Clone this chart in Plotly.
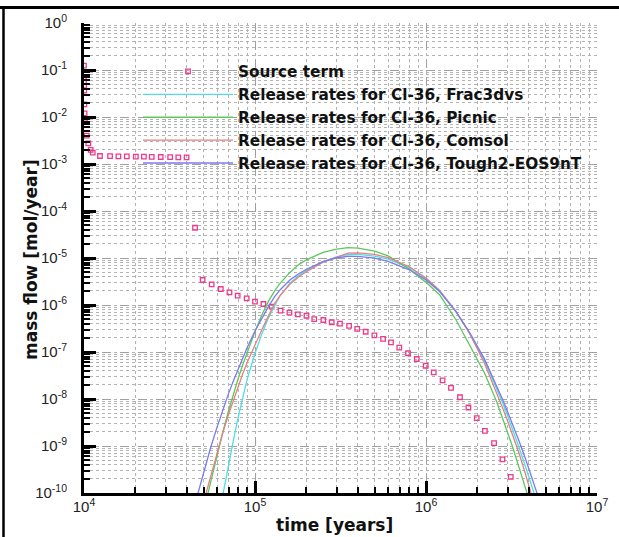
import plotly.graph_objects as go

# ---- data ----
src_time = [10000, 10005, 10010, 10020, 10030, 10050, 10080, 10120, 10370, 10600, 10940, 11250,
            12400, 14200, 15900, 17800, 20100, 22400, 24900, 28100, 31900, 35600, 39800, 44600,
            49400, 55800, 63100, 70900, 79200, 89400, 100000, 112000, 125000, 141000, 159000,
            178000, 200000, 222000, 251000, 281000, 314000, 355000, 396000, 444000, 499000,
            561000, 624000, 698000, 785000, 883000, 996000, 1110000, 1250000, 1400000, 1580000,
            1770000, 1980000, 2210000, 2500000, 2800000, 3130000, 3500000]
src_mass = [0.124, 0.070, 0.0564, 0.0457, 0.0363, 0.0186, 0.0120, 0.0078, 0.0040, 0.00275, 0.00199, 0.00174,
            0.00148, 0.00147, 0.00146, 0.00145, 0.00144, 0.00143, 0.00142, 0.00141, 0.0014, 0.00139, 0.00138, 4.4e-5,
            3.4e-6, 2.75e-6, 2.19e-6, 1.86e-6, 1.58e-6, 1.39e-6, 1.18e-6, 1.05e-6, 9.2e-7, 7.6e-7, 6.9e-7,
            6.3e-7, 5.9e-7, 5.0e-7, 4.8e-7, 4.3e-7, 4.0e-7, 3.6e-7, 3.1e-7, 2.7e-7, 2.26e-7,
            1.9e-7, 1.6e-7, 1.24e-7, 9.4e-8, 7.1e-8, 5.1e-8, 3.7e-8, 2.5e-8, 1.73e-8, 1.09e-8,
            6.6e-9, 3.9e-9, 2.1e-9, 1.15e-9, 5.2e-10, 2.2e-10, 9.5e-11]

rel_time = [4.5e4, 5e4, 5.5e4, 6e4, 6.5e4, 7e4, 7.5e4, 8e4, 8.5e4, 9e4, 1e5, 1.1e5, 1.2e5, 1.3e5, 1.4e5,
            1.6e5, 1.8e5, 2e5, 2.5e5, 3e5, 3.5e5, 4e5, 5e5, 6e5, 7e5, 8e5, 1e6, 1.2e6, 1.5e6, 1.8e6,
            2.2e6, 2.4e6, 2.6e6, 2.8e6, 3e6, 3.2e6, 3.5e6, 3.8e6, 4e6, 4.2e6, 4.5e6, 5e6]

frac3dvs = [None, None, None, 2.1e-11, 1.0e-10, 4.04e-10, 1.40e-9, 4.31e-9, 1.14e-8, 2.64e-8, 9.42e-8,
            2.49e-7, 5.40e-7, 9.8e-7, 1.57e-6, 2.92e-6, 4.22e-6, 5.45e-6, 8.43e-6, 1.05e-5, 1.19e-5,
            1.19e-5, 1.10e-5, 9.48e-6, 7.64e-6, 6.22e-6, 3.68e-6, 2.03e-6, 7.17e-7, 2.48e-7, 6.4e-8,
            3.18e-8, 1.66e-8, 8.53e-9, 4.41e-9, 2.37e-9, 9.29e-10, 3.86e-10, 2.17e-10, 1.23e-10, 5.7e-11, None]
picnic = [None, 4.0e-11, 1.72e-10, 6.56e-10, 2.06e-9, 5.58e-9, 1.33e-8, 2.83e-8, 5.47e-8, 9.9e-8, 2.73e-7,
          6.28e-7, 1.21e-6, 1.97e-6, 2.88e-6, 4.94e-6, 7.24e-6, 9.16e-6, 1.32e-5, 1.54e-5, 1.66e-5,
          1.62e-5, 1.40e-5, 1.11e-5, 7.94e-6, 5.78e-6, 3.03e-6, 1.66e-6, 4.80e-7, 1.44e-7, 3.57e-8,
          1.69e-8, 8.4e-9, 3.96e-9, 1.95e-9, 9.86e-10, 3.51e-10, 1.35e-10, 7.3e-11, None, None, None]
comsol = [None, 6.3e-11, 2.31e-10, 7.31e-10, 1.98e-9, 4.68e-9, 9.9e-9, 1.95e-8, 3.53e-8, 5.98e-8, 1.44e-7,
          3.06e-7, 5.95e-7, 1.06e-6, 1.59e-6, 2.77e-6, 3.94e-6, 5.14e-6, 8.14e-6, 1.05e-5, 1.27e-5,
          1.28e-5, 1.19e-5, 1.02e-5, 8.11e-6, 6.53e-6, 3.77e-6, 2.04e-6, 7.17e-7, 2.48e-7, 5.69e-8,
          2.68e-8, 1.34e-8, 6.59e-9, 3.40e-9, 1.79e-9, 7.0e-10, 2.70e-10, 1.42e-10, 7.6e-11, None, None]
tough2 = [6.6e-11, 2.72e-10, 9.16e-10, 2.52e-9, 6.01e-9, 1.30e-8, 2.50e-8, 4.54e-8, 7.75e-8, 1.25e-7, 2.80e-7,
          5.42e-7, 9.33e-7, 1.49e-6, 2.09e-6, 3.39e-6, 4.61e-6, 5.76e-6, 8.38e-6, 1.01e-5, 1.09e-5,
          1.08e-5, 9.95e-6, 8.43e-6, 6.83e-6, 5.61e-6, 3.42e-6, 1.93e-6, 7.20e-7, 2.60e-7, 7.06e-8,
          3.54e-8, 1.85e-8, 9.9e-9, 5.37e-9, 3.0e-9, 1.28e-9, 5.61e-10, 3.29e-10, 1.91e-10, 9.0e-11, None]

x_tickvals = [1e4, 1e5, 1e6, 1e7]
x_ticktext = ["10<sup>4</sup>", "10<sup>5</sup>", "10<sup>6</sup>", "10<sup>7</sup>"]
y_tickvals = [1e-10, 1e-9, 1e-8, 1e-7, 1e-6, 1e-5, 1e-4, 1e-3, 1e-2, 1e-1, 1]
y_ticktext = ["10<sup>-10</sup>", "10<sup>-9</sup>", "10<sup>-8</sup>", "10<sup>-7</sup>", "10<sup>-6</sup>",
              "10<sup>-5</sup>", "10<sup>-4</sup>", "10<sup>-3</sup>", "10<sup>-2</sup>", "10<sup>-1</sup>",
              "10<sup>0</sup>"]

series = [
    ("Release rates for Cl-36, Frac3dvs", frac3dvs, "#4fdde6"),
    ("Release rates for Cl-36, Picnic", picnic, "#5cc85c"),
    ("Release rates for Cl-36, Comsol", comsol, "#e58080"),
    ("Release rates for Cl-36, Tough2-EOS9nT", tough2, "#7b7bef"),
]

fig = go.Figure()
fig.add_trace(go.Scatter(
    x=src_time, y=src_mass, mode="markers", name="Source term", cliponaxis=False,
    marker=dict(symbol="square-open", size=4.5, color="#f0388c", line=dict(width=1.3, color="#f0388c")),
))
for name, vals, color in series:
    fig.add_trace(go.Scatter(x=rel_time, y=vals, mode="lines", name=name,
                             line=dict(color=color, width=1.3), connectgaps=False))

# plot area in page pixels: x 84..597, y 23..493
W, H = 619, 537
L, R, T, B = 84, 22, 23, 44
pw, ph = W - L - R, H - T - B

def px(x):
    return (x - L) / pw

def py(y):
    return (H - B - y) / ph

axis_common = dict(
    type="log", tickmode="array",
    ticks="inside", ticklen=12, tickwidth=2.5, tickcolor="black",
    showline=True, linecolor="black", linewidth=3,
    showgrid=True, gridcolor="#a0a0a0", griddash="dash", gridwidth=1,
    zeroline=False,
    tickfont=dict(family="Arial", size=15, color="#222"),
    minor=dict(dtick="D1", ticks="inside", ticklen=6, tickwidth=1.5, tickcolor="black",
               showgrid=True, gridcolor="#b3b3b3", griddash="dot", gridwidth=1),
)

title_font = dict(family="DejaVu Sans", size=17, color="#111", weight="bold")

fig.update_layout(
    width=W, height=H,
    margin=dict(l=L, r=R, t=T, b=B),
    paper_bgcolor="white", plot_bgcolor="white",
    xaxis=dict(range=[4, 7], tickvals=x_tickvals, ticktext=x_ticktext, ticklabelstandoff=-2, **axis_common),
    yaxis=dict(range=[-10, 0], tickvals=y_tickvals, ticktext=y_ticktext, ticklabelstandoff=11, **axis_common),
    showlegend=True,
    legend=dict(x=px(138), y=py(55), xanchor="left", yanchor="top",
                bgcolor="rgba(0,0,0,0)", borderwidth=0, itemwidth=90, tracegroupgap=0,
                font=dict(family="DejaVu Sans", size=15.3, color="#111", weight="bold")),
    annotations=[
        dict(text="time [years]", xref="paper", yref="paper", x=px(334), y=py(525),
             xanchor="center", yanchor="middle", showarrow=False, font=title_font),
        dict(text="mass flow [mol/year]", xref="paper", yref="paper", x=px(31), y=py(260),
             xanchor="center", yanchor="middle", showarrow=False, textangle=-90, font=title_font),
    ],
    shapes=[
        dict(type="line", xref="paper", yref="paper", x0=px(0), x1=px(619), y0=py(7.5), y1=py(7.5),
             line=dict(color="black", width=3)),
        dict(type="line", xref="paper", yref="paper", x0=px(3.5), x1=px(3.5), y0=py(6), y1=py(537),
             line=dict(color="black", width=2.5)),
    ],
)

fig.write_html("out.html", config={"displayModeBar": False},
               post_script="document.body.style.margin='0';document.body.style.overflow='hidden';")
